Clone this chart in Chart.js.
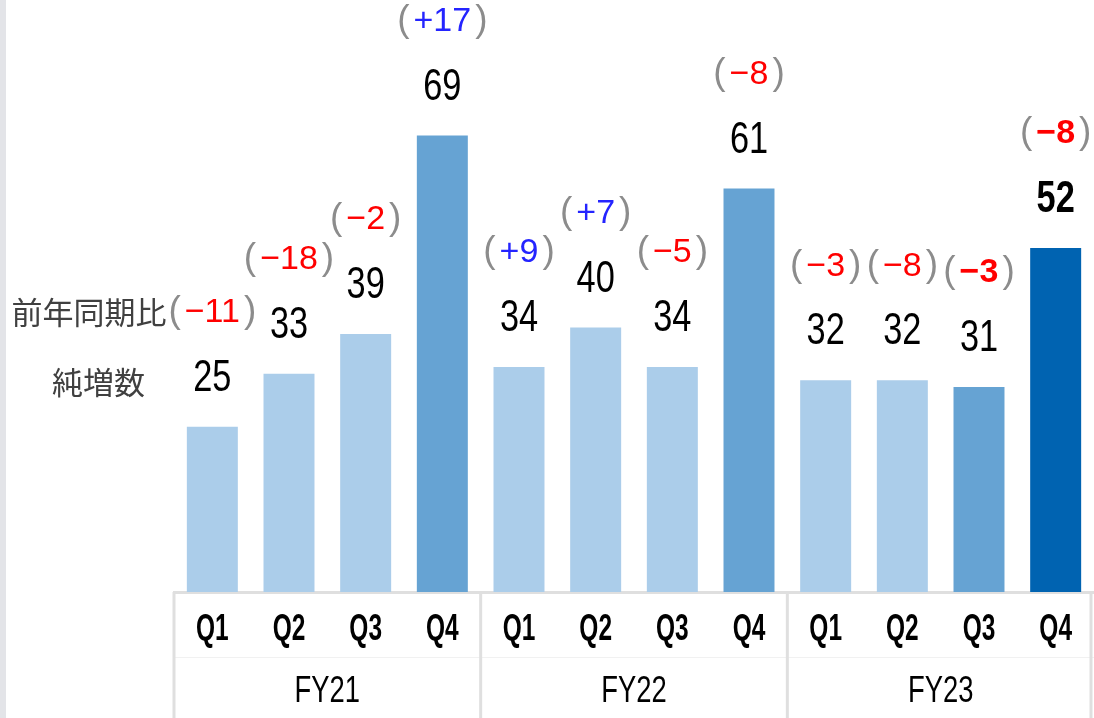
<!DOCTYPE html>
<html lang="ja">
<head>
<meta charset="utf-8">
<script src="https://cdn.jsdelivr.net/npm/chart.js@4/dist/chart.umd.min.js"></script>
<style>
  html, body { margin: 0; padding: 0; background: #ffffff; overflow: hidden; }
  #wrap { position: relative; width: 1094px; height: 718px; }
</style>
</head>
<body>
<div id="wrap"><canvas id="chart"></canvas></div>
<script>
// Quarterly net additions with the year-on-year change shown above each bar
const fiscalYears = ['FY21', 'FY22', 'FY23'];
const quarters = ['Q1', 'Q2', 'Q3', 'Q4'];
const netAdds = [25, 33, 39, 69, 34, 40, 34, 61, 32, 32, 31, 52];
const yoyChange = [-11, -18, -2, 17, 9, 7, -5, -8, -3, -8, -3, -8];
const rowLabelYoy = '前年同期比';
const rowLabelNet = '純増数';

const LIGHT = '#abcdea';
const MID = '#66a3d3';
const DARK = '#0063b1';
const AXIS_GREY = '#dfdfdf';
const LABEL_FONT = '"Liberation Sans", "DejaVu Sans", sans-serif';
const CJK_FONT = '"Noto Sans CJK JP", "Noto Sans", sans-serif';

const categories = [];
fiscalYears.forEach(() => quarters.forEach(q => categories.push(q)));
const lastIndex = netAdds.length - 1;

function barColor(i) {
  if (i === lastIndex) return DARK;
  if (i === lastIndex - 1 || i % quarters.length === quarters.length - 1) return MID;
  return LIGHT;
}

// draws text horizontally condensed around its centre
function narrowText(ctx, text, x, y, sx) {
  ctx.save();
  ctx.translate(x, y);
  ctx.scale(sx, 1);
  ctx.textAlign = 'center';
  ctx.textBaseline = 'middle';
  ctx.fillText(text, 0, 0);
  ctx.restore();
}

// Value and year-on-year labels, row captions, two-level category axis
const annotations = {
  id: 'annotations',
  beforeDraw(chart) {
    const ctx = chart.ctx;
    ctx.save();
    ctx.fillStyle = '#e3e4e8';
    ctx.fillRect(0, 0, 6, chart.height);
    ctx.restore();
  },
  afterDraw(chart) {
    const ctx = chart.ctx;
    const x = chart.scales.x;
    const area = chart.chartArea;
    const meta = chart.getDatasetMeta(0);
    const step = x.getPixelForValue(1) - x.getPixelForValue(0);
    const bottom = chart.height;

    ctx.save();
    // row divider and group separators
    ctx.strokeStyle = '#f1f1f1';
    ctx.lineWidth = 1;
    ctx.beginPath();
    ctx.moveTo(area.left, area.bottom + 65.5);
    ctx.lineTo(area.right, area.bottom + 65.5);
    ctx.stroke();

    ctx.strokeStyle = AXIS_GREY;
    ctx.lineWidth = 3;
    for (let g = 0; g <= fiscalYears.length; g++) {
      let px = x.getPixelForValue(g * quarters.length) - step / 2;
      if (g === fiscalYears.length) px = x.getPixelForValue(lastIndex) + step / 2 - 3;
      ctx.beginPath();
      ctx.moveTo(px, area.bottom);
      ctx.lineTo(px, bottom);
      ctx.stroke();
    }

    // quarter tick labels
    ctx.fillStyle = '#000000';
    ctx.font = 'bold 36px ' + LABEL_FONT;
    x.ticks.forEach((t, i) => {
      narrowText(ctx, categories[i], x.getPixelForValue(i), area.bottom + 38, 0.68);
    });

    // fiscal-year labels
    ctx.font = '37px ' + LABEL_FONT;
    fiscalYears.forEach((fy, g) => {
      const a = x.getPixelForValue(g * quarters.length);
      const b = x.getPixelForValue(g * quarters.length + quarters.length - 1);
      narrowText(ctx, fy, (a + b) / 2, area.bottom + 100, 0.74);
    });

    // bar labels
    meta.data.forEach((bar, i) => {
      const vy = bar.y - 48;
      ctx.fillStyle = '#000000';
      ctx.font = (i === lastIndex ? 'bold ' : '') + '44px ' + LABEL_FONT;
      narrowText(ctx, String(netAdds[i]), bar.x, vy, 0.78);

      const cy = vy - 66;
      const v = yoyChange[i];
      const body = (v > 0 ? '+' : '\u2212') + Math.abs(v);
      const bold = i >= lastIndex - 1;
      const bodyFont = (bold ? 'bold ' : '') + '34px ' + LABEL_FONT;
      const parenFont = '37px ' + LABEL_FONT;
      ctx.textBaseline = 'middle';
      ctx.textAlign = 'left';
      ctx.font = parenFont;
      const wp = ctx.measureText('(').width;
      ctx.font = bodyFont;
      const wb = ctx.measureText(body).width;
      const gap = 4;
      const total = wp * 2 + wb + gap * 2;
      const sx = bar.x - total / 2;
      ctx.font = parenFont;
      ctx.fillStyle = '#8c8c8c';
      ctx.fillText('(', sx, cy - 1);
      ctx.fillText(')', sx + wp + gap * 2 + wb, cy - 1);
      ctx.font = bodyFont;
      ctx.fillStyle = v > 0 ? '#2424ff' : '#ff0000';
      ctx.fillText(body, sx + wp + gap, cy);

      if (i === 0) {
        ctx.fillStyle = '#404040';
        ctx.font = '31px ' + CJK_FONT;
        ctx.textAlign = 'right';
        ctx.fillText(rowLabelYoy, sx - 2, cy);
        ctx.fillText(rowLabelNet, area.left - 29, vy + 4);
      }
    });
    ctx.restore();
  }
};

new Chart(document.getElementById('chart'), {
  type: 'bar',
  data: {
    labels: categories,
    datasets: [{
      data: netAdds,
      backgroundColor: netAdds.map((_, i) => barColor(i)),
      barPercentage: 0.665,
      categoryPercentage: 1.0,
      borderWidth: 0
    }]
  },
  options: {
    responsive: true,
    maintainAspectRatio: false,
    animation: false,
    devicePixelRatio: 1,
    layout: { padding: { left: 174, right: 0, top: 0, bottom: 0 } },
    plugins: { legend: { display: false }, tooltip: { enabled: false } },
    scales: {
      x: {
        grid: { display: false, drawTicks: false },
        border: { display: true, color: AXIS_GREY, width: 3 },
        ticks: { display: false, autoSkip: false },
        afterFit(scale) { scale.height = 126; }
      },
      y: {
        display: false,
        min: 0,
        max: 89.5
      }
    }
  },
  plugins: [annotations]
});
</script>
</body>
</html>
